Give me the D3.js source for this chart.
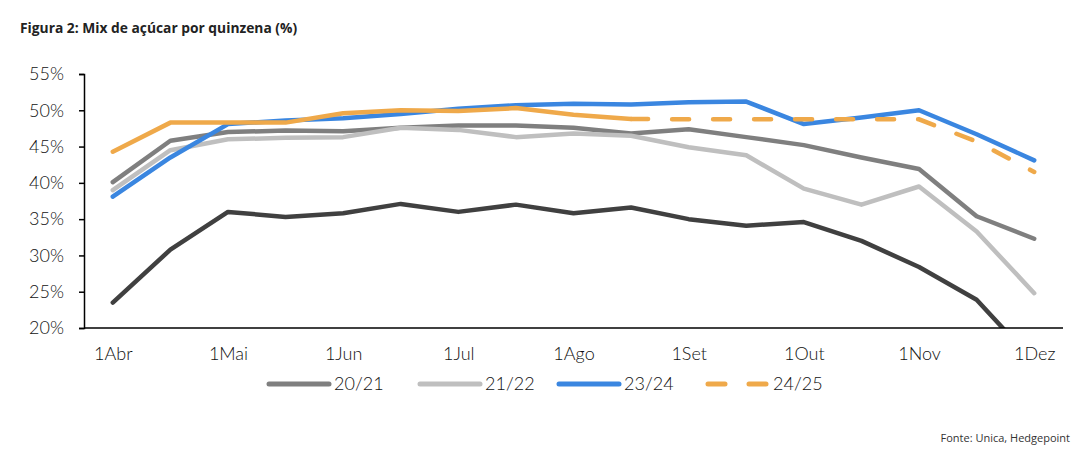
<!DOCTYPE html>
<html>
<head>
<meta charset="utf-8">
<script src="https://cdn.jsdelivr.net/npm/d3@7"></script>
<style>
  body { margin: 0; background: #fff; }
  .tick text { font-family: Lato, sans-serif; font-size: 18px; font-weight: 300; fill: #111; }
</style>
</head>
<body>
<div id="chart"></div>
<script>
// fortnights, Apr -> Dec
const categories = ["1Abr", "16Abr", "1Mai", "16Mai", "1Jun", "16Jun", "1Jul", "16Jul", "1Ago",
    "16Ago", "1Set", "16Set", "1Out", "16Out", "1Nov", "16Nov", "1Dez"];
const monthLabels = ["1Abr", "1Mai", "1Jun", "1Jul", "1Ago", "1Set", "1Out", "1Nov", "1Dez"];
const yTicks = [20, 25, 30, 35, 40, 45, 50, 55];

const s2021 = [40.1, 45.8, 47.0, 47.2, 47.1, 47.6, 47.9, 47.9, 47.6, 46.8, 47.4, 46.3, 45.2, 43.5, 41.9, 35.4, 32.3];
const s2122 = [39.0, 44.5, 46.0, 46.2, 46.3, 47.6, 47.3, 46.3, 46.8, 46.5, 44.9, 43.8, 39.2, 37.0, 39.5, 33.3, 24.8];
const s2223 = [23.5, 30.8, 36.0, 35.3, 35.8, 37.1, 36.0, 37.0, 35.8, 36.6, 35.0, 34.1, 34.6, 32.0, 28.4, 23.9, 15.3];
const s2324 = [38.1, 43.5, 48.1, 48.6, 48.9, 49.5, 50.2, 50.7, 50.9, 50.8, 51.1, 51.2, 48.1, 49.0, 50.0, 46.7, 43.1];
const s2425 = [44.3, 48.3, 48.3, 48.3, 49.6, 50.0, 49.9, 50.3, 49.4, 48.8, 48.75, 48.75, 48.75, 48.75, 48.75, 45.7, 41.5];
// 24/25 is an estimate from the 10th fortnight onward (dashed)
const estimateFrom = 9;

const width = 1092, height = 451;
const x0 = 84, x1 = 1063, yTop = 74, yBottom = 328;

const svg = d3.select('#chart')
    .append('svg')
    .attr('width', width)
    .attr('height', height)
    .style('font-family', 'Lato, sans-serif');

svg.append('text')
    .attr('x', 20)
    .attr('y', 33)
    .style('font-family', '"Open Sans", sans-serif')
    .style('font-weight', 'bold')
    .style('font-size', '13.8px')
    .style('fill', '#222')
    .text('Figura 2: Mix de açúcar por quinzena (%)');

const x = d3.scalePoint()
    .domain(categories)
    .range([x0, x1])
    .padding(0.5);

const y = d3.scaleLinear()
    .domain([20, 55])
    .range([yBottom, yTop]);

svg.append('clipPath')
    .attr('id', 'plot')
    .append('rect')
    .attr('x', x0)
    .attr('y', 50)
    .attr('width', x1 - x0)
    .attr('height', yBottom - 50);

const line = d3.line()
    .x((d, i) => x(categories[i]))
    .y(d => y(d));

const g = svg.append('g').attr('clip-path', 'url(#plot)');

const series = [
    { values: s2021, color: '#7f7f7f' },
    { values: s2122, color: '#bfbfbf' },
    { values: s2223, color: '#404040' },
    { values: s2324, color: '#3a86e0' }
];

series.forEach(s => {
    g.append('path')
        .datum(s.values)
        .attr('d', line)
        .style('fill', 'none')
        .style('stroke', s.color)
        .style('stroke-width', 4.5)
        .style('stroke-linejoin', 'round')
        .style('stroke-linecap', 'round');
});

// 24/25: solid part then dashed estimate
const lineFrom = start => d3.line()
    .x((d, i) => x(categories[i + start]))
    .y(d => y(d));

g.append('path')
    .datum(s2425.slice(0, estimateFrom + 1))
    .attr('d', lineFrom(0))
    .style('fill', 'none')
    .style('stroke', '#efa94a')
    .style('stroke-width', 4.5)
    .style('stroke-linejoin', 'round')
    .style('stroke-linecap', 'round');

g.append('path')
    .datum(s2425.slice(estimateFrom))
    .attr('d', lineFrom(estimateFrom))
    .style('fill', 'none')
    .style('stroke', '#efa94a')
    .style('stroke-width', 4.5)
    .style('stroke-dasharray', '17,24')
    .style('stroke-linecap', 'round');

// axes
const yAxis = svg.append('g')
    .attr('transform', `translate(${x0},0)`)
    .call(d3.axisLeft(y).tickValues(yTicks).tickFormat(d => d + '%').tickSize(5).tickPadding(15));
yAxis.selectAll('line, path').style('stroke', '#000').style('stroke-width', 1.5);

const xAxis = svg.append('g')
    .attr('transform', `translate(0,${yBottom})`)
    .call(d3.axisBottom(x).tickValues(monthLabels).tickSize(0).tickPadding(19));
xAxis.select('path').attr('d', `M${x0},0H${x1}`).style('stroke', '#000').style('stroke-width', 1.5);

// legend
const legendItems = [
    { name: '20/21', color: '#7f7f7f', dash: null, x: 267 },
    { name: '21/22', color: '#bfbfbf', dash: null, x: 418 },
    { name: '23/24', color: '#3a86e0', dash: null, x: 557 },
    { name: '24/25', color: '#efa94a', dash: '17,24', x: 706 }
];

const legend = svg.append('g');
legendItems.forEach(d => {
    const item = legend.append('g').attr('transform', `translate(${d.x},384)`);
    item.append('line')
        .attr('x1', 2).attr('x2', 62)
        .style('stroke', d.color)
        .style('stroke-width', 5)
        .style('stroke-linecap', 'round')
        .style('stroke-dasharray', d.dash);
    item.append('text')
        .attr('x', 67)
        .attr('dy', '0.36em')
        .style('font-size', '18px')
        .style('font-weight', 300)
        .style('fill', '#111')
        .text(d.name);
});

svg.append('text')
    .attr('x', 1070)
    .attr('y', 442)
    .attr('text-anchor', 'end')
    .style('font-family', '"Open Sans", sans-serif')
    .style('font-size', '11px')
    .style('fill', '#333')
    .text('Fonte: Unica, Hedgepoint');
</script>
</body>
</html>
